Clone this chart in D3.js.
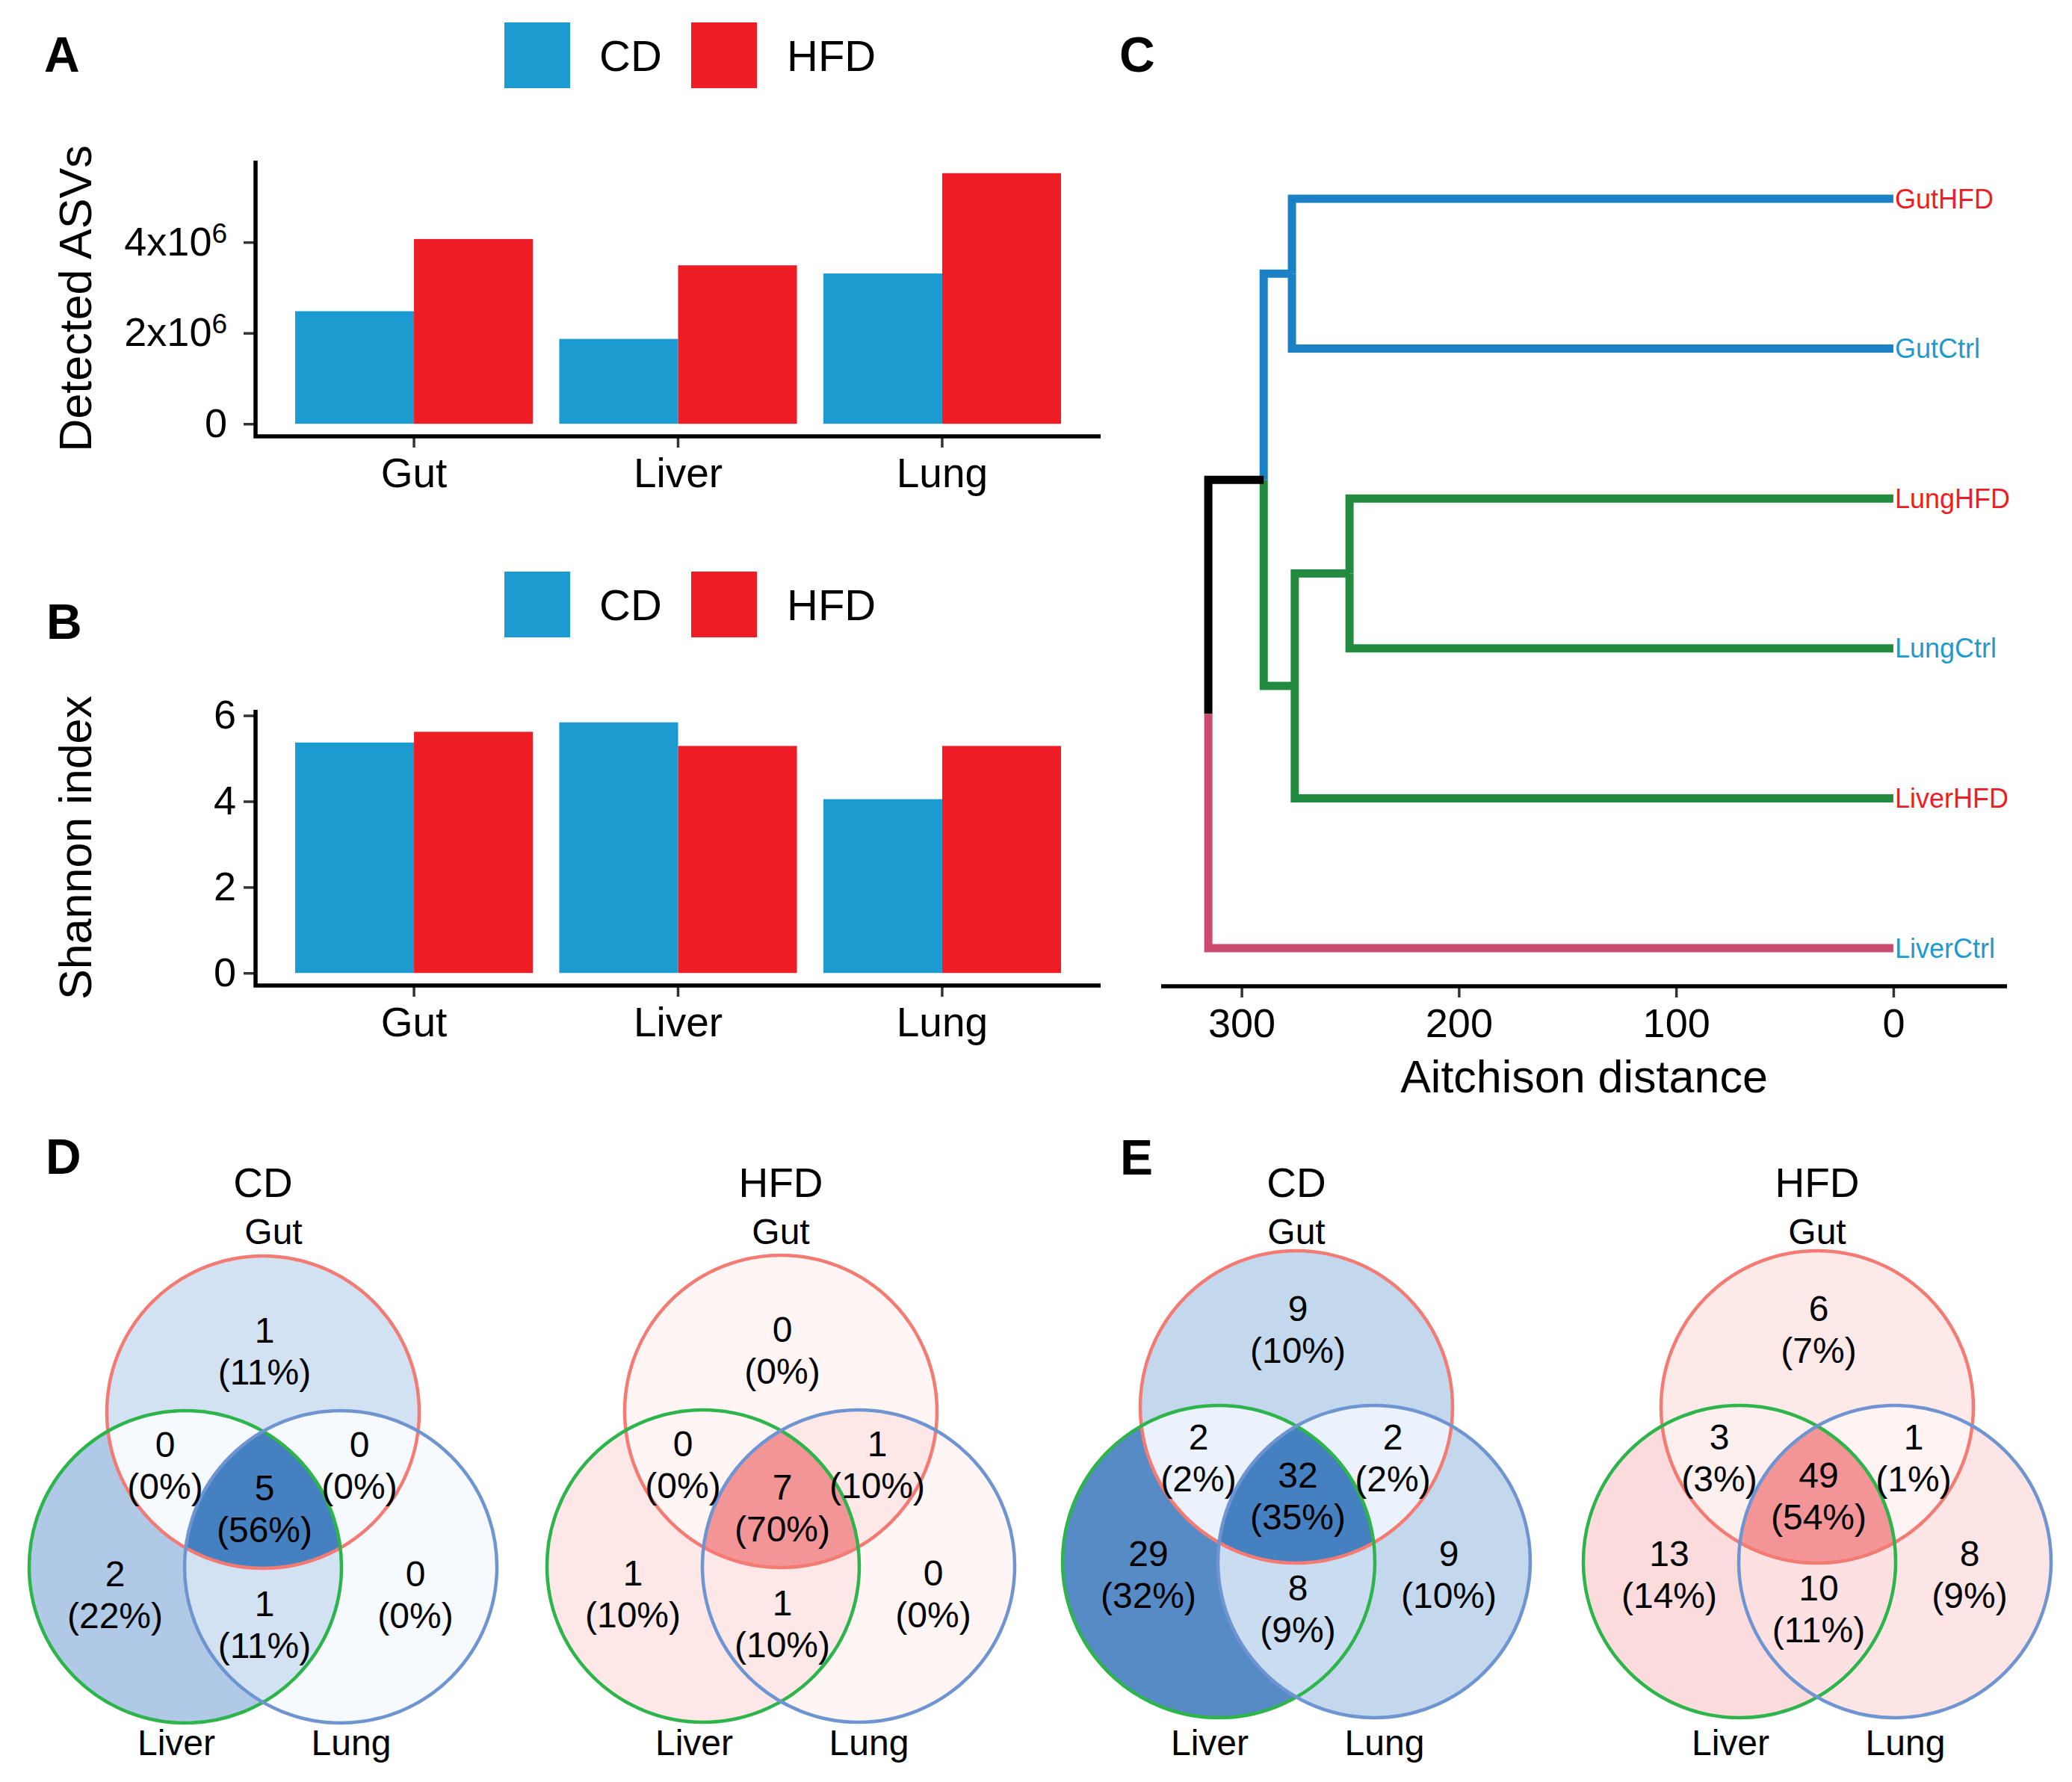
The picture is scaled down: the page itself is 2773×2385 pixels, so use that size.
<!DOCTYPE html>
<html>
<head>
<meta charset="utf-8">
<script src="https://cdn.jsdelivr.net/npm/d3@7"></script>
<style>
  body { margin: 0; background: #fff; }
  text { font-family: "Liberation Sans", Arial, sans-serif; }
</style>
</head>
<body>
<div id="chart"></div>
<script>
// bar panels A and B
const organs = ["Gut", "Liver", "Lung"];
const diets = ["CD", "HFD"];
const asvCD = [2.48e6, 1.87e6, 3.31e6];
const asvHFD = [4.07e6, 3.49e6, 5.52e6];
const asvTicks = [0, 2e6, 4e6];
const shannonCD = [5.37, 5.84, 4.05];
const shannonHFD = [5.62, 5.29, 5.29];
const shannonTicks = [0, 2, 4, 6];

// dendrogram panel C
const leaves = ["GutHFD", "GutCtrl", "LungHFD", "LungCtrl", "LiverHFD", "LiverCtrl"];
const leafDiet = ["HFD", "CD", "HFD", "CD", "HFD", "CD"];
const leafCluster = [0, 0, 1, 1, 1, 2];
const mergeLeft = ["GutHFD", "LungHFD", "n2", "n1", "n4"];
const mergeRight = ["GutCtrl", "LungCtrl", "LiverHFD", "n3", "LiverCtrl"];
const mergeHeight = [276.8, 250.3, 275.5, 289.8, 315.3];
const distTicks = [300, 200, 100, 0];

// venn panels D and E (regions: Gut, Gut&Liver, all, Gut&Lung, Liver, Liver&Lung, Lung)
const vennSets = ["Gut", "Liver", "Lung"];
const vennRegions = [[0], [0, 1], [0, 1, 2], [0, 2], [1], [1, 2], [2]];
const vennD_CD = [1, 0, 5, 0, 2, 1, 0];
const vennD_HFD = [0, 0, 7, 1, 1, 1, 0];
const vennE_CD = [9, 2, 32, 2, 29, 8, 9];
const vennE_HFD = [6, 3, 49, 1, 13, 10, 8];

const W = 2773, H = 2385;
const dietColor = {CD: "#1b9bd0", HFD: "#ee1d25"};
const clusterColor = ["#1c80c5", "#228b40", "#cd4a6f"];

const svg = d3.select("#chart").append("svg")
    .attr("width", W).attr("height", H)
    .attr("viewBox", `0 0 ${W} ${H}`);
svg.append("rect").attr("width", W).attr("height", H).attr("fill", "#fff");
const defs = svg.append("defs");

function panelLabel(t, x, y) {
    svg.append("text").attr("x", x).attr("y", y)
        .attr("font-size", 66).attr("font-weight", "bold").text(t);
}

function legend(top) {
    const g = svg.append("g");
    diets.forEach((d, i) => {
        g.append("rect").attr("x", 675 + i * 250).attr("y", top)
            .attr("width", 88).attr("height", 88).attr("fill", dietColor[d]);
        g.append("text").attr("x", 802 + i * 251).attr("y", top + 65)
            .attr("font-size", 58).text(d);
    });
}

function barPanel(cd, hfd, ticks, bottom, title, labelPad, sup) {
    const g = svg.append("g");
    const top = bottom - 369;
    const left = 342, right = 1473;
    const x = d3.scaleBand().domain(organs).range([left, right])
        .paddingInner(0.1).paddingOuter(0.15);
    const x1 = d3.scaleBand().domain(diets).range([0, x.bandwidth()]);
    const max = d3.max(cd.concat(hfd));
    const y = d3.scaleLinear().domain([-0.05 * max, 1.05 * max]).range([bottom, top]);

    const rows = organs.map((o, i) => ({organ: o, vals: [cd[i], hfd[i]]}));
    g.selectAll(".grp").data(rows).join("g")
        .attr("transform", d => `translate(${x(d.organ)},0)`)
      .selectAll("rect").data(d => d.vals.map((v, j) => ({diet: diets[j], v})))
      .join("rect")
        .attr("x", d => x1(d.diet))
        .attr("y", d => y(d.v))
        .attr("width", x1.bandwidth())
        .attr("height", d => y(0) - y(d.v))
        .attr("fill", d => dietColor[d.diet]);

    // y axis
    const ya = g.append("g").attr("transform", `translate(${left},0)`)
        .call(d3.axisLeft(y).tickValues(ticks).tickFormat(d => String(d))
            .tickSize(16).tickPadding(labelPad));
    ya.select(".domain").remove();
    ya.selectAll(".tick line").attr("stroke", "#333").attr("stroke-width", 3.5);
    ya.selectAll(".tick text").attr("font-size", 54).attr("fill", "#000")
        .attr("font-family", "Liberation Sans, Arial, sans-serif");
    if (sup) {
        ya.selectAll(".tick text").each(function(d) {
            const t = d3.select(this);
            if (d === 0) return;
            t.text(null);
            t.append("tspan").text(`${d / 1e6}x10`);
            t.append("tspan").attr("dy", -17).attr("font-size", 37).text("6");
        });
    }
    // x axis
    const xa = g.append("g").attr("transform", `translate(0,${bottom})`)
        .call(d3.axisBottom(x).tickSize(15).tickPadding(14));
    xa.select(".domain").remove();
    xa.selectAll(".tick line").attr("stroke", "#333").attr("stroke-width", 3.5);
    xa.selectAll(".tick text").attr("font-size", 55).attr("fill", "#000")
        .attr("font-family", "Liberation Sans, Arial, sans-serif");

    g.append("path").attr("d", `M${left},${top}V${bottom}H${right}`)
        .attr("fill", "none").attr("stroke", "#000").attr("stroke-width", 5.5)
        .attr("stroke-linejoin", "miter").attr("stroke-linecap", "butt");

    g.append("text").attr("transform", `translate(122,${(top + bottom) / 2}) rotate(-90)`)
        .attr("text-anchor", "middle").attr("font-size", 61).text(title);
}

panelLabel("A", 59, 96);
legend(30);
barPanel(asvCD, asvHFD, asvTicks, 584, "Detected ASVs", 22, true);
panelLabel("B", 62, 855);
legend(765);
barPanel(shannonCD, shannonHFD, shannonTicks, 1319, "Shannon index", 10, false);

// ---- dendrogram
panelLabel("C", 1498, 96);
(function() {
    const g = svg.append("g");
    const xd = d3.scaleLinear().domain([337, -52.3]).range([1554, 2686]);
    const yd = d3.scalePoint().domain(leaves).range([266, 1269]);
    const nodes = {};
    leaves.forEach((l, i) => { nodes[l] = {x: xd(0), y: yd(l), cl: leafCluster[i]}; });
    const edges = [];
    mergeHeight.forEach((h, i) => {
        const a = nodes[mergeLeft[i]], b = nodes[mergeRight[i]];
        const n = {x: xd(h), y: (a.y + b.y) / 2, cl: a.cl === b.cl ? a.cl : -1};
        nodes["n" + (i + 1)] = n;
        edges.push([n, a], [n, b]);
    });
    g.selectAll("path.edge").data(edges).join("path")
        .attr("d", ([p, c]) => `M${p.x},${p.y}V${c.y}H${c.x}`)
        .attr("fill", "none")
        .attr("stroke", ([p, c]) => c.cl < 0 ? "#000" : clusterColor[c.cl])
        .attr("stroke-width", 11)
        .attr("stroke-linejoin", "miter");

    g.selectAll("text.leaf").data(leaves).join("text")
        .attr("x", xd(0) + 2).attr("y", d => yd(d))
        .attr("dominant-baseline", "central")
        .attr("font-size", 36)
        .attr("fill", (d, i) => dietColor[leafDiet[i]])
        .text(d => d);

    const xa = g.append("g").attr("transform", "translate(0,1320)")
        .call(d3.axisBottom(xd).tickValues(distTicks).tickSize(15).tickPadding(15));
    xa.select(".domain").remove();
    xa.selectAll(".tick line").attr("stroke", "#333").attr("stroke-width", 3.5);
    xa.selectAll(".tick text").attr("font-size", 54).attr("fill", "#000")
        .attr("font-family", "Liberation Sans, Arial, sans-serif");
    g.append("line").attr("x1", 1554).attr("x2", 2686).attr("y1", 1320).attr("y2", 1320)
        .attr("stroke", "#000").attr("stroke-width", 5.5);
    g.append("text").attr("x", 2120).attr("y", 1462).attr("text-anchor", "middle")
        .attr("font-size", 61).text("Aitchison distance");
})();

// ---- venn diagrams
const setStroke = ["#f47b73", "#2db44b", "#6e94d1"];
const labelDx = [2, -131, 2, 129, -198, 2, 204];
const labelDyD = [-110, 43, 101, 43, 216, 256, 216];
const labelDyE = [-132, 40, 91, 40, 196, 242, 196];

function venn(id, cx, cy, title, counts, colors, labelDy, gutDx) {
    const g = svg.append("g");
    const r = 209;
    const centers = [[cx, cy], [cx - 104, cy + 207], [cx + 104, cy + 207]];
    centers.forEach((c, s) => {
        defs.append("clipPath").attr("id", `${id}-c${s}`)
            .append("circle").attr("cx", c[0]).attr("cy", c[1]).attr("r", r);
    });
    const maskFor = outs => {
        const mid = `${id}-m${outs.join("")}`;
        if (defs.select("#" + mid).empty()) {
            const m = defs.append("mask").attr("id", mid).attr("maskUnits", "userSpaceOnUse")
                .attr("x", 0).attr("y", 0).attr("width", W).attr("height", H);
            m.append("rect").attr("width", W).attr("height", H).attr("fill", "#fff");
            outs.forEach(s => m.append("circle").attr("cx", centers[s][0])
                .attr("cy", centers[s][1]).attr("r", r).attr("fill", "#000"));
        }
        return `url(#${mid})`;
    };
    const total = d3.sum(counts);
    const col = d3.scaleLinear().domain([0, d3.max(counts)]).range(colors);

    vennRegions.forEach((sets, i) => {
        let holder = g;
        sets.slice(1).forEach(s => {
            holder = holder.append("g").attr("clip-path", `url(#${id}-c${s})`);
        });
        const outs = [0, 1, 2].filter(s => !sets.includes(s));
        const c = centers[sets[0]];
        const el = holder.append("circle").attr("cx", c[0]).attr("cy", c[1]).attr("r", r)
            .attr("fill", col(counts[i]));
        if (outs.length) el.attr("mask", maskFor(outs));
    });

    centers.forEach((c, s) => {
        g.append("circle").attr("cx", c[0]).attr("cy", c[1]).attr("r", r)
            .attr("fill", "none").attr("stroke", setStroke[s]).attr("stroke-width", 4.5);
    });

    vennRegions.forEach((sets, i) => {
        const x = cx + labelDx[i], yc = cy + labelDy[i];
        g.append("text").attr("x", x).attr("y", yc + 17).attr("text-anchor", "middle")
            .attr("font-size", 48).text(counts[i]);
        g.append("text").attr("x", x).attr("y", yc + 61 + 12).attr("text-anchor", "middle")
            .attr("font-size", 48).text(`(${Math.round(counts[i] / total * 100)}%)`);
    });

    g.append("text").attr("x", cx).attr("y", 1602).attr("text-anchor", "middle")
        .attr("font-size", 55).text(title);
    g.append("text").attr("x", cx + gutDx).attr("y", 1665).attr("text-anchor", "middle")
        .attr("font-size", 48).text(vennSets[0]);
    g.append("text").attr("x", centers[1][0] - 12).attr("y", 2349).attr("text-anchor", "middle")
        .attr("font-size", 48).text(vennSets[1]);
    g.append("text").attr("x", centers[2][0] + 14).attr("y", 2349).attr("text-anchor", "middle")
        .attr("font-size", 48).text(vennSets[2]);
}

const blueRamp = ["#f6faff", "#4580c0"];
const redRamp = ["#fff5f5", "#f39496"];
panelLabel("D", 61, 1571);
venn("vdc", 352, 1890, "CD", vennD_CD, blueRamp, labelDyD, 14);
venn("vdh", 1045, 1889, "HFD", vennD_HFD, redRamp, labelDyD, 0);
panelLabel("E", 1499, 1572);
venn("vec", 1735, 1883, "CD", vennE_CD, blueRamp, labelDyE, 0);
venn("veh", 2432, 1883, "HFD", vennE_HFD, redRamp, labelDyE, 0);
</script>
</body>
</html>
